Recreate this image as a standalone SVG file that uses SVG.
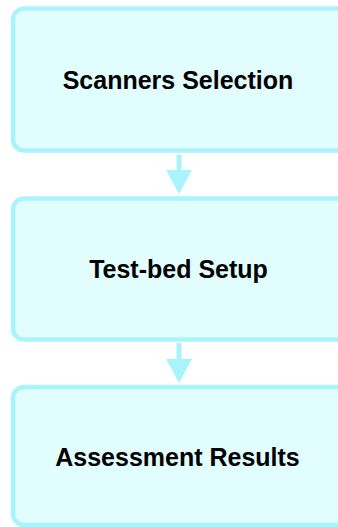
<svg xmlns="http://www.w3.org/2000/svg" width="338" height="527" viewBox="0 0 338 527">
<style>
.box{fill:#e1fdfd;stroke:#a9f4fc;stroke-width:4.5}
.lbl{font-family:"Liberation Sans",Arial,sans-serif;font-weight:bold;font-size:25px;fill:#000;text-anchor:middle}
.edge{stroke:#a9f4fc;stroke-width:5;fill:none}
.head{fill:#a9f4fc}
</style>
<rect width="338" height="527" fill="#ffffff"/>
<g id="n1">
<rect class="box" x="13" y="8.5" width="345" height="142" rx="11"/>
<text class="lbl" x="178" y="89">Scanners Selection</text>
</g>
<g id="n2">
<rect class="box" x="13" y="198.5" width="345" height="141" rx="11"/>
<text class="lbl" x="178.5" y="277.5">Test-bed Setup</text>
</g>
<g id="n3">
<rect class="box" x="13" y="387" width="345" height="138" rx="11"/>
<text class="lbl" x="177.5" y="466">Assessment Results</text>
</g>
<g id="edges">
<line class="edge" x1="179" y1="155" x2="179" y2="172"/>
<polygon class="head" points="166,170 192,170 179,194"/>
<line class="edge" x1="179" y1="343" x2="179" y2="361"/>
<polygon class="head" points="166,359 192,359 179,383"/>
</g>
</svg>
